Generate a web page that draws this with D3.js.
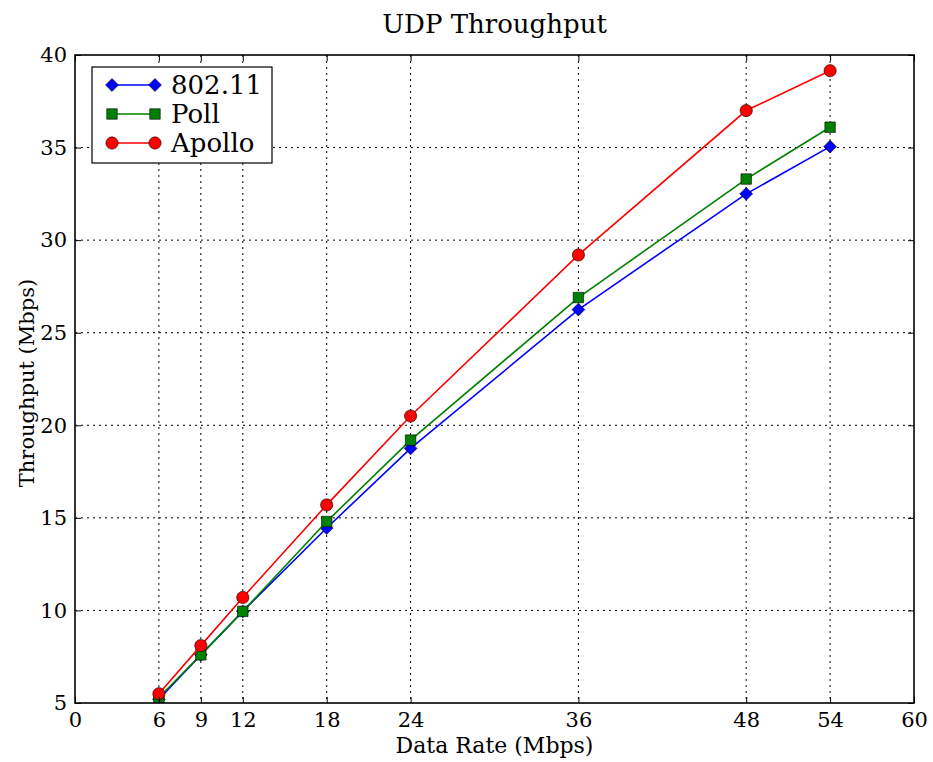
<!DOCTYPE html>
<html>
<head>
<meta charset="utf-8">
<script src="https://cdn.jsdelivr.net/npm/d3@7"></script>
<style>
    body { margin: 0; background: #fff; }
    text { font-family: "DejaVu Serif", serif; fill: #000; }
</style>
</head>
<body>
<div id="chart"></div>
<script>
// Data rates (x) and measured throughput for each scheme
const dataRates = [6, 9, 12, 18, 24, 36, 48, 54];
const wifi80211 = [5.2, 7.6, 9.95, 14.45, 18.75, 26.25, 32.5, 35.05];
const poll = [5.3, 7.6, 9.95, 14.8, 19.2, 26.9, 33.3, 36.1];
const apollo = [5.5, 8.1, 10.7, 15.7, 20.5, 29.2, 37.0, 39.15];

const seriesNames = ["802.11", "Poll", "Apollo"];
const xTicks = [0, 6, 9, 12, 18, 24, 36, 48, 54, 60];
const yTicks = [5, 10, 15, 20, 25, 30, 35, 40];

const series = [
    { name: seriesNames[0], values: wifi80211, color: "#0000ff", marker: "diamond" },
    { name: seriesNames[1], values: poll, color: "#008000", marker: "square" },
    { name: seriesNames[2], values: apollo, color: "#ff0000", marker: "circle" }
];

const totalWidth = 933, totalHeight = 762;
const margin = {top: 55, right: 19, bottom: 59, left: 75};
const width = totalWidth - margin.left - margin.right;
const height = totalHeight - margin.top - margin.bottom;

const svg = d3.select("#chart").append("svg")
    .attr("width", totalWidth)
    .attr("height", totalHeight);

const g = svg.append("g")
    .attr("transform", `translate(${margin.left},${margin.top})`);

const x = d3.scaleLinear().domain([0, 60]).range([0, width]);
const y = d3.scaleLinear().domain([5, 40]).range([height, 0]);

g.append("clipPath").attr("id", "plot-clip")
    .append("rect").attr("width", width).attr("height", height);

// Dotted grid at the inner ticks
g.append("g").selectAll("line")
    .data(xTicks.filter(d => d > 0 && d < 60))
    .enter().append("line")
    .attr("x1", d => x(d)).attr("x2", d => x(d))
    .attr("y1", 0).attr("y2", height)
    .attr("stroke", "#000").attr("stroke-width", 1)
    .attr("stroke-dasharray", "2,4");

g.append("g").selectAll("line")
    .data(yTicks.filter(d => d > 5 && d < 40))
    .enter().append("line")
    .attr("x1", 0).attr("x2", width)
    .attr("y1", d => y(d)).attr("y2", d => y(d))
    .attr("stroke", "#000").attr("stroke-width", 1)
    .attr("stroke-dasharray", "2,4");

// Marker shapes
const markerPath = {
    diamond: d3.symbol().type(d3.symbolDiamond2).size(105),
    square: d3.symbol().type(d3.symbolSquare2).size(140),
    circle: d3.symbol().type(d3.symbolCircle).size(118)
};

const line = d3.line()
    .x((d, i) => x(dataRates[i]))
    .y(d => y(d));

const plot = g.append("g").attr("clip-path", "url(#plot-clip)");

series.forEach(s => {
    plot.append("path")
        .datum(s.values)
        .attr("fill", "none")
        .attr("stroke", s.color)
        .attr("stroke-width", 1.6)
        .attr("d", line);

    plot.selectAll(".m-" + s.marker)
        .data(s.values)
        .enter().append("path")
        .attr("class", "m-" + s.marker)
        .attr("transform", (d, i) => `translate(${x(dataRates[i])},${y(d)})`)
        .attr("d", markerPath[s.marker])
        .attr("fill", s.color)
        .attr("stroke", "#000")
        .attr("stroke-width", 0.6);
});

// Axes: ticks pointing inward on all four sides
const tickLen = 6;
const xAxis = g.append("g")
    .attr("transform", `translate(0,${height})`)
    .call(d3.axisBottom(x).tickValues(xTicks).tickSizeInner(-tickLen).tickSizeOuter(0).tickPadding(9));
const xAxisTop = g.append("g")
    .call(d3.axisTop(x).tickValues(xTicks).tickSizeInner(-tickLen).tickSizeOuter(0).tickFormat(""));
const yAxis = g.append("g")
    .call(d3.axisLeft(y).tickValues(yTicks).tickSizeInner(-tickLen).tickSizeOuter(0).tickPadding(8));
const yAxisRight = g.append("g")
    .attr("transform", `translate(${width},0)`)
    .call(d3.axisRight(y).tickValues(yTicks).tickSizeInner(-tickLen).tickSizeOuter(0).tickFormat(""));

[xAxis, xAxisTop, yAxis, yAxisRight].forEach(a => {
    a.select(".domain").remove();
    a.selectAll(".tick line").attr("stroke", "#000").attr("stroke-width", 1);
    a.selectAll("text").style("font-family", "DejaVu Serif").style("font-size", "21px").attr("fill", "#000");
});

// Frame
g.append("rect")
    .attr("width", width).attr("height", height)
    .attr("fill", "none").attr("stroke", "#000").attr("stroke-width", 1.6);

// Title and axis labels
svg.append("text")
    .attr("x", margin.left + width / 2).attr("y", 33)
    .attr("text-anchor", "middle")
    .style("font-size", "26px")
    .text("UDP Throughput");

svg.append("text")
    .attr("x", margin.left + width / 2).attr("y", 753)
    .attr("text-anchor", "middle")
    .style("font-size", "22px")
    .text("Data Rate (Mbps)");

svg.append("text")
    .attr("transform", `translate(34,${margin.top + height / 2 + 4}) rotate(-90)`)
    .attr("text-anchor", "middle")
    .style("font-size", "21px")
    .text("Throughput (Mbps)");

// Legend
const legend = g.append("g").attr("transform", "translate(17,12)");
legend.append("rect")
    .attr("width", 180).attr("height", 96)
    .attr("fill", "#fff").attr("stroke", "#000").attr("stroke-width", 1.2);

const rows = legend.selectAll(".legend-row")
    .data(series)
    .enter().append("g")
    .attr("class", "legend-row")
    .attr("transform", (d, i) => `translate(0,${18 + i * 29})`);

rows.append("line")
    .attr("x1", 20).attr("x2", 63)
    .attr("stroke", d => d.color).attr("stroke-width", 1.6);

rows.selectAll(".lm")
    .data(d => [20, 63].map(px => ({px, s: d})))
    .enter().append("path")
    .attr("class", "lm")
    .attr("transform", d => `translate(${d.px},0)`)
    .attr("d", d => markerPath[d.s.marker]())
    .attr("fill", d => d.s.color)
    .attr("stroke", "#000")
    .attr("stroke-width", 0.6);

rows.append("text")
    .attr("x", 79).attr("dy", "0.36em")
    .style("font-size", "26px")
    .text(d => d.name);
</script>
</body>
</html>
